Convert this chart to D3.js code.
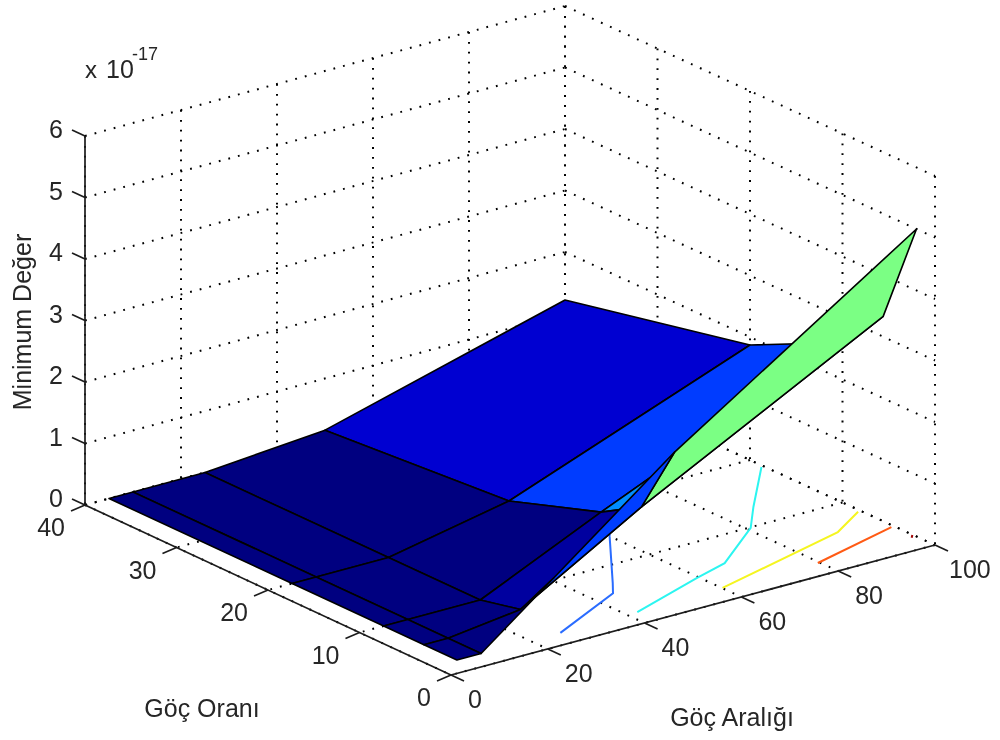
<!DOCTYPE html>
<html><head><meta charset="utf-8">
<style>html,body{margin:0;padding:0;background:#fff}svg{display:block;filter:blur(0.45px)}text{font-family:"Liberation Sans",Arial,sans-serif;fill:#262626}</style>
<script src="https://cdn.jsdelivr.net/npm/d3@7"></script>
</head><body><svg id="c" width="1000" height="740"></svg>
<script>
// Data
const gocAraligi = [5, 10, 25, 50, 100];
const gocOrani = [2, 5.6, 10, 20, 40];
const minRow2 = [0, 0, 0.91, 2.43, 5.0];
const minRow5 = [0, 0, 0.15, 1.29, 3.33];
const minRow10 = [0, 0, 0, 0.9, 2.6];
const minRow20 = [0, 0, 0, 0.39, 1.87];
const minRow40 = [0, 0, 0, 0.16, 1.22];
const minimumDeger = [minRow2, minRow5, minRow10, minRow20, minRow40];
const xTicks = [0, 20, 40, 60, 80, 100];
const yTicks = [0, 10, 20, 30, 40];
const zTicks = [0, 1, 2, 3, 4, 5, 6];
const contour1 = [[26.2,1.9],[44.3,5.7],[47.1,7.2],[59.8,14.2],[70.6,20],[89.6,40]];
const contour2 = [[42.1,1.9],[59.5,4.6],[67.4,5.7],[80.8,9.9],[87.1,12.9],[99.5,18.5]];
const contour3 = [[60.1,2.1],[91,5.8],[99.4,8]];
const contour4 = [[79.6,2],[99.4,4.4]];
const contour5 = [[99,2],[99.9,2.4]];
const contours = [contour1, contour2, contour3, contour4, contour5];
const contourColors = ["#2a6cff", "#2cf5f0", "#f5f520", "#ff5a14", "#a00000"];

// Scales and oblique projection
const sx = d3.scaleLinear().domain([0,100]).range([0,1]);
const sy = d3.scaleLinear().domain([0,40]).range([0,1]);
const sz = d3.scaleLinear().domain([0,6]).range([0,369]);
const project = (x,y,z=0) => {
  const u = sx(x), v = sy(y);
  return [451 + 484*u - 366*v - 4*u*v, 675 - 130*u - 170*v - sz(z)];
};
const jet = t => {
  const cl = a => Math.round(255*Math.max(0,Math.min(1,a)));
  return `rgb(${cl(Math.min(4*t-1.5,-4*t+4.5))},${cl(Math.min(4*t-0.5,-4*t+3.5))},${cl(Math.min(4*t+0.5,-4*t+2.5))})`;
};
const colorT = d3.scaleLinear().domain([0,4.9]).range([0,1]).clamp(true);

const svg = d3.select("#c");
const line = d3.line();
const gridG = svg.append("g").attr("fill","none").attr("stroke","#000").attr("stroke-width",2).attr("stroke-dasharray","1.8 8.1");
const gl = pts => gridG.append("path").attr("d", line(pts));

// Back walls
zTicks.forEach(z => { gl([project(0,40,z),project(100,40,z)]); gl([project(100,40,z),project(100,0,z)]); });
xTicks.forEach(x => gl([project(x,40,6),project(x,40,0)]));
yTicks.forEach(y => gl([project(100,y,6),project(100,y,0)]));
// Floor
xTicks.forEach(x => gl([project(x,40,0),project(x,0,0)]));
yTicks.forEach(y => gl([project(100,y,0),project(0,y,0)]));

// Contours on the floor
svg.append("g").attr("fill","none").attr("stroke-width",2).selectAll("path").data(contours).join("path")
  .attr("stroke",(d,i)=>contourColors[i])
  .attr("d",d=>line(d.map(p=>project(p[0],p[1],0))));

// Surface: far faces first
const faces = [];
for (let j = gocOrani.length-2; j >= 0; j--) for (let i = gocAraligi.length-2; i >= 0; i--) {
  const c = [[i,j],[i+1,j],[i+1,j+1],[i,j+1]];
  faces.push({pts:c.map(([a,b])=>project(gocAraligi[a],gocOrani[b],minimumDeger[b][a])), z:minimumDeger[j][i]});
}
svg.append("g").selectAll("path").data(faces).join("path")
  .attr("d",d=>line(d.pts)+"Z")
  .attr("fill",d=>jet(colorT(d.z)))
  .attr("stroke","#000").attr("stroke-width",1.6).attr("stroke-linejoin","round");

// Axes
const ax = svg.append("g").attr("fill","none").attr("stroke","#1c1c1c").attr("stroke-width",1.7);
const al = pts => ax.append("path").attr("d", line(pts));
al([project(0,40,0),project(0,40,6)]);
al([project(0,40,0),project(0,0,0)]);
al([project(0,0,0),project(100,0,0)]);
const off = (p,dx,dy) => [p[0]+dx,p[1]+dy];
zTicks.forEach(z => al([project(0,40,z),off(project(0,40,z),-13,-6)]));
yTicks.forEach(y => al([project(0,y,0),off(project(0,y,0),-14,6)]));
xTicks.forEach(x => al([project(x,0,0),off(project(x,0,0),13,6)]));

// Text
const FS = 25;
const T = (s,x,y,a,fs=FS) => svg.append("text").attr("x",x).attr("y",y).attr("text-anchor",a).attr("font-size",fs).text(s);
zTicks.forEach(z => { const p = project(0,40,z); T(z,p[0]-22,p[1]+2,"end"); });
yTicks.forEach(y => { const p = project(0,y,0); T(y,p[0]-20,p[1]+31,"end"); });
xTicks.forEach(x => { const p = project(x,0,0); T(x,p[0]+(x===100?14:17),p[1]+33,"start"); });
T("Göç Oranı",202,717,"middle");
T("Göç Aralığı",732,726,"middle");
svg.append("text").attr("transform","translate(31,322) rotate(-90)").attr("text-anchor","middle").attr("font-size",FS).text("Minimum Değer");
T("x",85,78,"start",24);
T("10",106,78,"start",FS);
T("-17",132,60,"start",18);
</script></body></html>
